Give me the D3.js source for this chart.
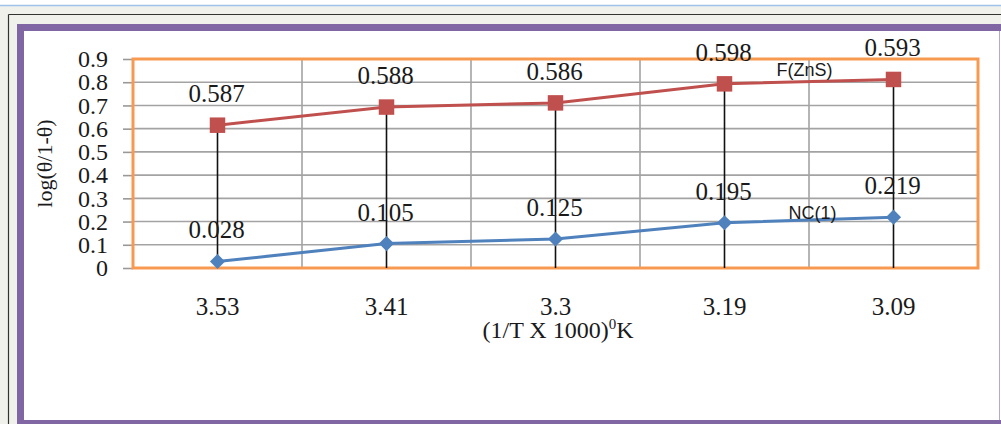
<!DOCTYPE html>
<html>
<head>
<meta charset="utf-8">
<script src="https://cdn.jsdelivr.net/npm/d3@7"></script>
<style>
  html, body { margin: 0; padding: 0; background: #fff; }
  svg { display: block; }
</style>
</head>
<body>
<svg id="chart" width="1001" height="424"></svg>
<script>
// ---- data ----
const categories = ["3.53", "3.41", "3.3", "3.19", "3.09"];
const ncValues = [0.028, 0.105, 0.125, 0.195, 0.219];   // NC(1)
const fValues  = [0.587, 0.588, 0.586, 0.598, 0.593];   // F(ZnS), stacked on NC(1)
const yTicks = [0, 0.1, 0.2, 0.3, 0.4, 0.5, 0.6, 0.7, 0.8, 0.9];
const seriesNames = ["NC(1)", "F(ZnS)"];

(function () {
const svg = d3.select("#chart");
const W = 1001, H = 424;

// ---- page frame ----
svg.append("rect").attr("x", 0).attr("y", 0).attr("width", W).attr("height", H).attr("fill", "#ffffff");
svg.append("rect").attr("x", 0).attr("y", 6).attr("width", W).attr("height", H - 6).attr("fill", "#f1f1ec");
svg.append("line").attr("x1", 0).attr("x2", W).attr("y1", 5.5).attr("y2", 5.5)
  .attr("stroke", "#9fc3e8").attr("stroke-width", 1.5);
svg.append("line").attr("x1", 8.5).attr("x2", W).attr("y1", 14.5).attr("y2", 14.5)
  .attr("stroke", "#333").attr("stroke-width", 1.2);
svg.append("line").attr("x1", 8.5).attr("x2", 8.5).attr("y1", 14.5).attr("y2", H)
  .attr("stroke", "#333").attr("stroke-width", 1.2);
// purple chart border
const purple = "#8066a3";
svg.append("rect").attr("x", 17).attr("y", 24).attr("width", W - 17).attr("height", H - 24).attr("fill", purple);
svg.append("rect").attr("x", 24).attr("y", 31).attr("width", 975).attr("height", 389).attr("fill", "#ffffff");
svg.append("line").attr("x1", 999.5).attr("x2", 999.5).attr("y1", 31).attr("y2", 420)
  .attr("stroke", "#b7a8cf").attr("stroke-width", 1);
svg.append("rect").attr("x", 1000).attr("y", 31).attr("width", 1).attr("height", 389).attr("fill", "#fff");

// ---- scales ----
const plot = { left: 133, right: 978, top: 59, bottom: 268 };
const x = d3.scaleBand().domain(categories).range([plot.left, plot.right]).padding(0);
const xc = d => x(d) + x.bandwidth() / 2;
const y = d3.scaleLinear().domain([0, 0.9]).range([plot.bottom, plot.top]);

// stacked data
const rows = categories.map((c, i) => ({ cat: c, nc: ncValues[i], f: fValues[i] }));
const stacked = d3.stack().keys(["nc", "f"])(rows);

// ---- grid ----
const g = svg.append("g");
g.selectAll(".hgrid").data(yTicks.filter(t => t > 0 && t < 0.9)).join("line")
  .attr("x1", plot.left).attr("x2", plot.right)
  .attr("y1", d => y(d)).attr("y2", d => y(d))
  .attr("stroke", "#a3a3a3").attr("stroke-width", 1.6);
g.selectAll(".vgrid").data(categories.slice(1)).join("line")
  .attr("x1", d => x(d)).attr("x2", d => x(d))
  .attr("y1", plot.top).attr("y2", plot.bottom)
  .attr("stroke", "#a3a3a3").attr("stroke-width", 1.6);

// ---- y axis ----
const yAxis = d3.axisLeft(y).tickValues(yTicks).tickFormat(d => String(+d.toFixed(1)))
  .tickSize(10).tickPadding(15);
const ya = svg.append("g").attr("transform", `translate(${plot.left},0)`).call(yAxis);
ya.select(".domain").remove();
ya.selectAll(".tick line").attr("stroke", "#999").attr("stroke-width", 1.6);
ya.selectAll(".tick text").attr("font-family", "'Liberation Serif', serif").attr("font-size", 24)
  .attr("fill", "#1a1a1a");

// ---- x axis ----
const xAxis = d3.axisBottom(x).tickSize(0).tickPadding(29);
const xa = svg.append("g").attr("transform", `translate(0,${plot.bottom})`).call(xAxis);
xa.select(".domain").remove();
xa.selectAll(".tick text").attr("font-family", "'Liberation Serif', serif").attr("font-size", 25)
  .attr("fill", "#1a1a1a");

// ---- plot border (orange) ----
svg.append("rect").attr("x", plot.left).attr("y", plot.top)
  .attr("width", plot.right - plot.left).attr("height", plot.bottom - plot.top)
  .attr("fill", "none").attr("stroke", "#f79a50").attr("stroke-width", 3);

// ---- drop lines ----
const upper = stacked[1];
svg.selectAll(".drop").data(upper).join("line")
  .attr("x1", d => xc(d.data.cat)).attr("x2", d => xc(d.data.cat))
  .attr("y1", d => y(d[1])).attr("y2", y(0))
  .attr("stroke", "#111").attr("stroke-width", 1.6);

// ---- lines ----
const colors = ["#4f81bd", "#c0504d"];
const line = d3.line().x(d => xc(d.data.cat)).y(d => y(d[1]));
stacked.forEach((s, i) => {
  svg.append("path").datum(s).attr("d", line).attr("fill", "none")
    .attr("stroke", colors[i]).attr("stroke-width", 3);
});

// markers
svg.selectAll(".mnc").data(stacked[0]).join("path")
  .attr("transform", d => `translate(${xc(d.data.cat)},${y(d[1])}) rotate(45)`)
  .attr("d", d3.symbol().type(d3.symbolSquare).size(115))
  .attr("fill", colors[0]);
svg.selectAll(".mf").data(stacked[1]).join("path")
  .attr("transform", d => `translate(${xc(d.data.cat)},${y(d[1])})`)
  .attr("d", d3.symbol().type(d3.symbolSquare).size(240))
  .attr("fill", colors[1]);

// ---- data labels ----
stacked.forEach((s, i) => {
  const vals = i === 0 ? ncValues : fValues;
  svg.selectAll(".lbl" + i).data(s).join("text")
    .attr("x", d => xc(d.data.cat) - 1).attr("y", d => y(d[1]) - 23)
    .attr("text-anchor", "middle")
    .attr("font-family", "'Liberation Serif', serif").attr("font-size", 25)
    .attr("fill", "#1a1a1a")
    .text((d, j) => vals[j].toFixed(3));
});

// series names near the last point
stacked.forEach((s, i) => {
  const last = s[s.length - 1];
  svg.append("text")
    .attr("x", xc(last.data.cat) - (i === 0 ? 81 : 89))
    .attr("y", y(last[1]) + (i === 0 ? 2 : -3))
    .attr("text-anchor", "middle")
    .attr("font-family", "'Liberation Sans', sans-serif").attr("font-size", 18)
    .attr("fill", "#1a1a1a")
    .text(seriesNames[i]);
});

// ---- axis titles ----
svg.append("text")
  .attr("transform", `translate(52,${(plot.top + plot.bottom) / 2}) rotate(-90)`)
  .attr("text-anchor", "middle")
  .attr("font-family", "'Liberation Serif', serif").attr("font-size", 22)
  .attr("fill", "#1a1a1a")
  .text("log(θ/1-θ)");

const xt = svg.append("text")
  .attr("x", 558).attr("y", 338)
  .attr("text-anchor", "middle")
  .attr("font-family", "'Liberation Serif', serif").attr("font-size", 24)
  .attr("fill", "#1a1a1a");
xt.append("tspan").text("(1/T X 1000)");
xt.append("tspan").attr("font-size", 15).attr("dy", -9).text("0");
xt.append("tspan").attr("dy", 9).text("K");
})();
</script>
</body>
</html>
